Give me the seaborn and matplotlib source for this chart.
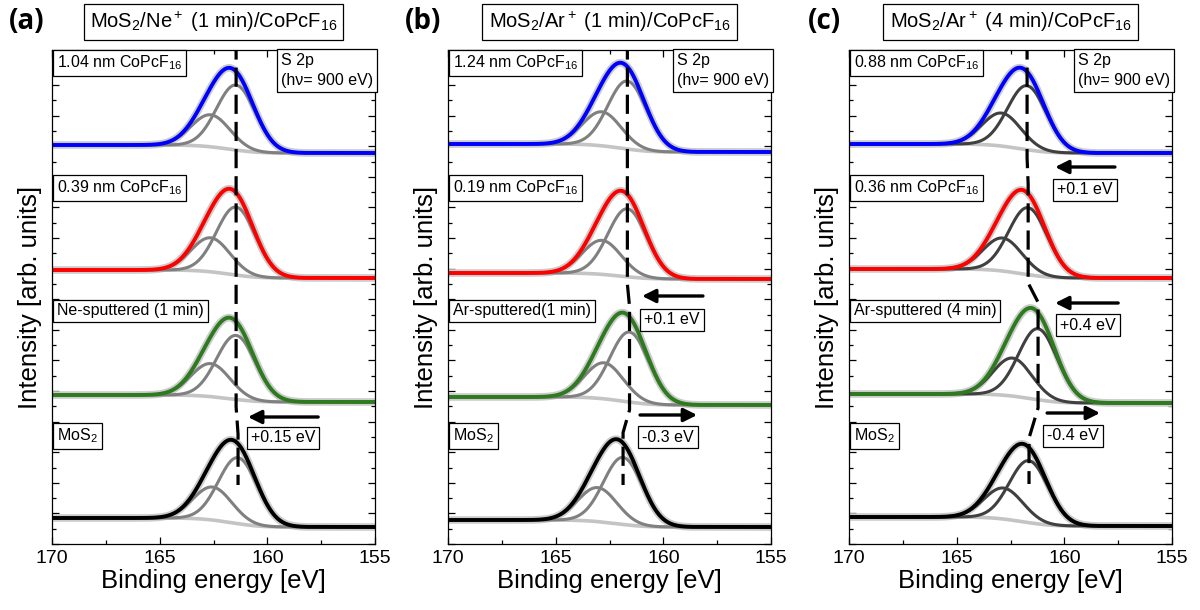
import numpy as np
import pandas as pd
import matplotlib
matplotlib.use('Agg')
import matplotlib.pyplot as plt
import seaborn as sns
from matplotlib.ticker import MultipleLocator

# panel titles and sample labels (top to bottom)
titles = [r'MoS$_2$/Ne$^+$ (1 min)/CoPcF$_{16}$',
          r'MoS$_2$/Ar$^+$ (1 min)/CoPcF$_{16}$',
          r'MoS$_2$/Ar$^+$ (4 min)/CoPcF$_{16}$']
letters = ['(a)', '(b)', '(c)']
sample_labels = [
    [r'1.04 nm CoPcF$_{16}$', r'0.39 nm CoPcF$_{16}$', 'Ne-sputtered (1 min)', r'MoS$_2$'],
    [r'1.24 nm CoPcF$_{16}$', r'0.19 nm CoPcF$_{16}$', 'Ar-sputtered(1 min)', r'MoS$_2$'],
    [r'0.88 nm CoPcF$_{16}$', r'0.36 nm CoPcF$_{16}$', 'Ar-sputtered (4 min)', r'MoS$_2$'],
]
shift_labels = [['+0.15 eV'],
                ['+0.1 eV', '-0.3 eV'],
                ['+0.1 eV', '+0.4 eV', '-0.4 eV']]

# fit parameters (top to bottom spectrum)
pos_32 = [[161.45, 161.45, 161.45, 161.36],
          [161.67, 161.67, 161.57, 161.87],
          [161.73, 161.68, 161.22, 161.64]]
height_32 = [[65, 68, 64, 66],
             [68, 68, 70, 67],
             [64, 67, 71, 62]]
height_12 = [[32, 34, 33, 33],
             [34, 34, 36, 34],
             [33, 33, 38, 31]]
bg_high = [[399, 274, 149, 26],
           [400, 271, 147, 24],
           [400, 275, 150, 27]]
bg_low = [[391, 266, 142, 17],
          [392, 265, 139, 17],
          [391, 266, 141, 18]]
spin_orbit = 1.18
sigma = 0.9

energy = np.linspace(155, 170, 751)

sns.set_theme(style='ticks')
plt.rcParams['font.family'] = ['Liberation Sans', 'DejaVu Sans']
plt.rcParams['mathtext.fontset'] = 'custom'
plt.rcParams['mathtext.rm'] = 'Liberation Sans'
plt.rcParams['mathtext.it'] = 'Liberation Sans:italic'
plt.rcParams['mathtext.bf'] = 'Liberation Sans:bold'
for key in ['text.color', 'axes.labelcolor', 'xtick.color', 'ytick.color']:
    plt.rcParams[key] = 'black'

env_colors = ['#0000ff', '#ff0000', '#2e7b1f', '#000000']
comp_colors = ['#808080', '#808080', '#404040']

# arrow start/end (eV), arrow height, label position
arrows = [
    [(157.64, 160.9, 127, 159.27, 106)],
    [(158.16, 160.99, 248, 159.6, 224), (161.08, 158.43, 129, 159.78, 107)],
    [(157.65, 160.43, 377, 159.04, 354), (157.5, 160.43, 241, 158.9, 219),
     (160.8, 158.34, 131, 159.6, 108)],
]
label_y = [481, 356, 233, 108]
lefts = [52, 448, 849]

fig = plt.figure(figsize=(12, 6.1), dpi=100)
box = dict(boxstyle='square,pad=0.25', fc='white', ec='black', lw=0.9)


def gauss(e, center, height):
    return height * np.exp(-0.5 * ((e - center) / sigma) ** 2)


for p in range(3):
    ax = fig.add_axes([lefts[p] / 1200, 66 / 610, 323 / 1200, 494 / 610])
    guide = []
    for i in range(4):
        p1 = gauss(energy, pos_32[p][i], height_32[p][i])
        p2 = gauss(energy, pos_32[p][i] + spin_orbit, height_12[p][i])
        peaks = p1 + p2
        cum = np.cumsum(peaks)
        bg = bg_low[p][i] + (bg_high[p][i] - bg_low[p][i]) * cum / cum[-1]
        df = pd.DataFrame({'E': energy, 'bg': bg, 'c1': bg + p1,
                           'c2': bg + p2, 'env': bg + peaks})
        sns.lineplot(data=df, x='E', y='env', ax=ax, color='#cccccc',
                     lw=5.5, estimator=None)
        sns.lineplot(data=df, x='E', y='bg', ax=ax, color='#c4c4c4',
                     lw=2.6, estimator=None)
        sns.lineplot(data=df, x='E', y='c1', ax=ax, color=comp_colors[p],
                     lw=2.2, estimator=None)
        sns.lineplot(data=df, x='E', y='c2', ax=ax, color=comp_colors[p],
                     lw=2.2, estimator=None)
        sns.lineplot(data=df, x='E', y='env', ax=ax, color=env_colors[i],
                     lw=2.8, estimator=None)
        top = 494 if i == 0 else bg_low[p][i] + peaks.max() + 10
        bottom = bg_low[p][i] + 42 if i == 3 else bg_low[p][i] - 5
        guide += [(pos_32[p][i], top), (pos_32[p][i], bottom)]
        ax.text(0.015, label_y[i], sample_labels[p][i], fontsize=11.5,
                ha='left', va='center', bbox=box,
                transform=ax.get_yaxis_transform())
    gx, gy = zip(*guide)
    ax.plot(gx, gy, color='black', lw=2.3, ls=(3, (6, 2.5)), zorder=5)

    for (x0, x1, ya, xl, yl), txt in zip(arrows[p], shift_labels[p]):
        ax.annotate('', xy=(x1, ya), xytext=(x0, ya),
                    arrowprops=dict(arrowstyle='-|>', color='black', lw=2.4,
                                    mutation_scale=20, shrinkA=0, shrinkB=0))
        ax.text(xl, yl, txt, fontsize=11.5, ha='center', va='center', bbox=box)

    ax.text(0.71, 0.993, 'S 2p\n(h\u03bd= 900 eV)', transform=ax.transAxes,
            fontsize=11.5, ha='left', va='top', linespacing=1.35, bbox=box)
    ax.text(0.5, 1.057, titles[p], transform=ax.transAxes, fontsize=14.5,
            ha='center', va='center',
            bbox=dict(boxstyle='square,pad=0.3', fc='white', ec='black', lw=0.9))
    ax.text(-0.077, 1.057, letters[p], transform=ax.transAxes, fontsize=20,
            fontweight='bold', family=['Open Sans', 'DejaVu Sans'],
            ha='center', va='center')

    ax.set_xlim(170, 155)
    ax.set_ylim(0, 494)
    ax.xaxis.set_major_locator(MultipleLocator(5))
    ax.xaxis.set_minor_locator(MultipleLocator(2.5))
    ax.yaxis.set_major_locator(MultipleLocator(30.6))
    ax.yaxis.set_minor_locator(MultipleLocator(15.3))
    ax.tick_params(which='both', direction='in', top=True, right=True,
                   color='black', width=0.9, labelleft=False)
    ax.tick_params(which='major', length=5, labelsize=14, pad=4)
    ax.tick_params(which='minor', length=3)
    for s in ax.spines.values():
        s.set_color('black')
        s.set_linewidth(0.9)
    ax.set_xlabel('Binding energy [eV]', fontsize=18.5, labelpad=2)
    ax.set_ylabel('Intensity [arb. units]', fontsize=18.5, labelpad=7)

fig.savefig('out.png', dpi=100)
